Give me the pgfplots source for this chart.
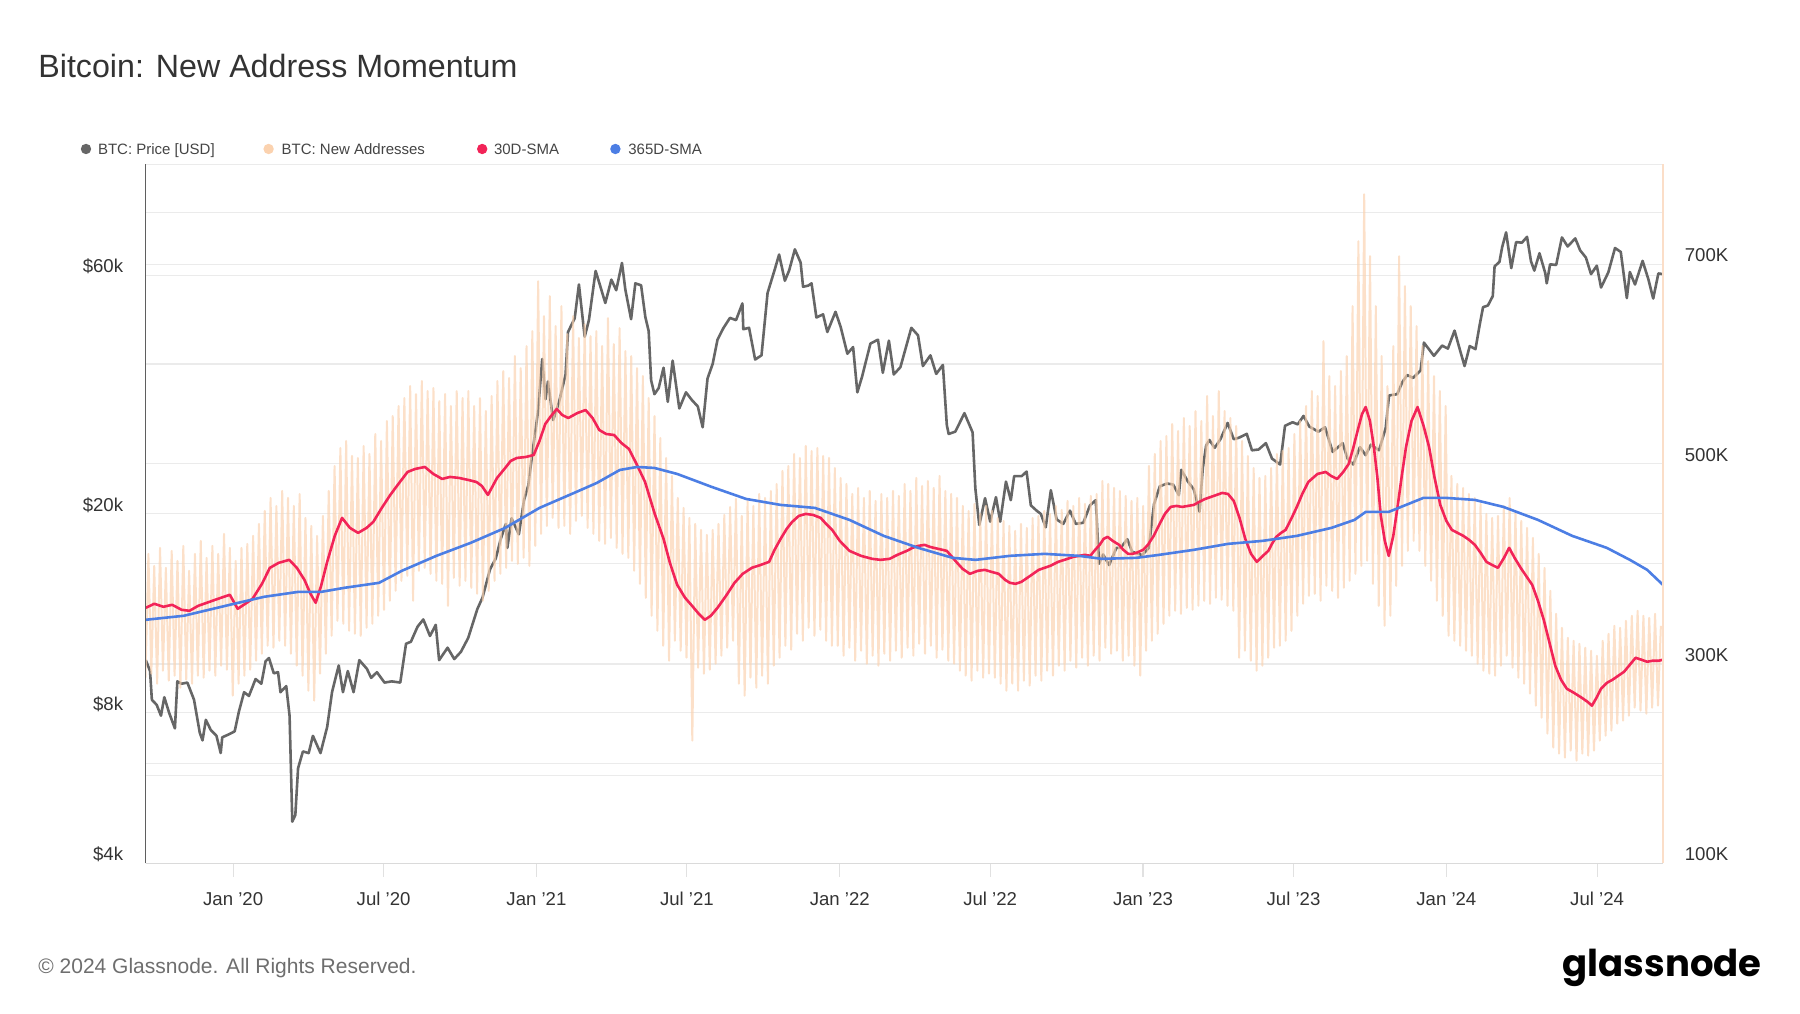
\documentclass[border=0pt]{standalone}
\usepackage{fontspec}
\setmainfont{Liberation Sans}
\newfontfamily\logofont{Poppins}
\usepackage{pgfplots}
\pgfplotsset{compat=1.18}
\usepackage{pgfplotstable}

\definecolor{pricegray}{RGB}{102,102,102}
\definecolor{peach}{RGB}{251,210,175}
\definecolor{peachaxis}{RGB}{251,222,200}
\definecolor{smared}{RGB}{242,36,88}
\definecolor{smablue}{RGB}{76,126,228}
\definecolor{gridc}{RGB}{235,235,235}
\definecolor{tickc}{RGB}{225,225,225}
\definecolor{bottomc}{RGB}{218,218,218}
\definecolor{spine}{RGB}{95,95,95}
\definecolor{txt}{RGB}{51,51,51}
\definecolor{legtxt}{RGB}{68,68,68}
\definecolor{foot}{RGB}{110,110,110}

\pgfplotstableread{
t price
2019.712 10200
2019.726 9700
2019.732 8500
2019.748 8300
2019.762 7900
2019.773 8600
2019.789 8000
2019.808 7450
2019.816 9250
2019.830 9150
2019.849 9200
2019.871 8500
2019.890 7300
2019.899 7050
2019.910 7750
2019.926 7400
2019.945 7200
2019.959 6650
2019.964 7150
2019.986 7250
2020.005 7350
2020.019 8050
2020.036 8800
2020.052 8650
2020.074 9350
2020.093 9150
2020.107 10150
2020.118 10300
2020.134 9600
2020.148 9650
2020.156 8800
2020.175 9050
2020.186 7900
2020.195 4850
2020.205 5000
2020.214 6200
2020.230 6700
2020.249 6650
2020.263 7200
2020.288 6650
2020.310 7500
2020.326 8800
2020.348 9950
2020.362 8800
2020.378 9700
2020.397 8800
2020.416 10200
2020.441 9800
2020.455 9400
2020.474 9650
2020.499 9200
2020.523 9250
2020.551 9200
2020.570 11000
2020.586 11100
2020.608 11900
2020.627 12300
2020.649 11400
2020.668 12000
2020.679 10200
2020.707 10800
2020.729 10250
2020.751 10600
2020.775 11300
2020.805 12900
2020.822 13600
2020.847 15500
2020.866 16300
2020.882 17800
2020.899 19100
2020.904 17100
2020.918 19600
2020.942 18200
2020.959 21300
2020.973 22800
2020.986 26300
2021.005 32000
2021.019 40800
2021.030 33900
2021.038 36800
2021.055 30800
2021.074 33400
2021.096 38000
2021.104 46200
2021.126 49200
2021.140 57500
2021.159 45200
2021.173 48800
2021.195 61200
2021.208 57700
2021.227 52800
2021.247 58800
2021.263 56000
2021.282 63500
2021.293 56200
2021.312 49000
2021.326 57800
2021.345 57300
2021.359 49500
2021.370 46400
2021.378 37000
2021.389 34700
2021.403 35700
2021.419 39200
2021.433 33500
2021.449 40500
2021.471 32500
2021.493 35000
2021.512 33800
2021.532 32800
2021.548 29800
2021.564 37300
2021.581 39900
2021.597 44600
2021.616 47000
2021.638 49300
2021.658 48800
2021.679 52700
2021.682 46800
2021.701 47100
2021.721 40700
2021.742 41500
2021.762 55300
2021.786 61700
2021.800 66000
2021.819 58500
2021.833 61300
2021.852 67600
2021.871 63600
2021.879 56900
2021.896 57200
2021.907 57800
2021.923 49400
2021.945 50100
2021.959 46200
2021.986 50700
2022.003 47300
2022.025 41800
2022.044 43100
2022.058 35000
2022.074 37700
2022.101 43800
2022.126 44600
2022.142 38300
2022.162 44400
2022.178 38000
2022.200 39300
2022.236 47100
2022.258 45500
2022.274 39500
2022.299 41500
2022.318 38100
2022.340 39700
2022.353 30100
2022.359 28900
2022.381 29200
2022.411 31800
2022.438 29100
2022.447 22500
2022.460 19000
2022.479 21500
2022.496 19300
2022.515 21600
2022.529 19300
2022.548 23200
2022.564 21300
2022.575 23800
2022.600 23800
2022.616 24300
2022.630 20800
2022.649 20300
2022.663 20000
2022.679 18800
2022.696 22300
2022.715 19500
2022.737 19100
2022.759 20300
2022.778 19100
2022.803 19200
2022.825 20800
2022.844 21300
2022.855 15900
2022.868 16600
2022.888 15800
2022.912 17100
2022.926 17100
2022.948 17800
2022.964 16800
2022.997 16550
2023.019 17100
2023.036 20900
2023.055 22700
2023.079 23000
2023.099 22900
2023.118 21800
2023.126 24500
2023.148 23200
2023.167 22400
2023.186 20200
2023.197 24700
2023.208 27400
2023.219 28100
2023.236 27100
2023.255 28200
2023.279 30400
2023.299 28200
2023.316 28400
2023.342 28900
2023.359 26800
2023.381 26900
2023.405 27700
2023.425 25800
2023.452 25100
2023.468 30000
2023.493 30500
2023.510 30200
2023.529 31400
2023.548 29900
2023.578 29200
2023.600 29800
2023.625 26600
2023.658 27700
2023.674 25800
2023.693 25100
2023.715 27200
2023.734 26200
2023.751 27500
2023.778 26800
2023.800 29700
2023.811 34500
2023.838 34700
2023.855 36700
2023.871 37900
2023.890 37400
2023.915 38700
2023.926 44000
2023.959 41400
2023.986 43400
2024.005 42800
2024.027 46500
2024.044 42700
2024.060 39500
2024.077 43300
2024.096 42700
2024.110 47800
2024.121 51800
2024.137 52200
2024.153 54500
2024.159 62500
2024.175 63800
2024.184 68300
2024.197 73100
2024.214 62000
2024.230 69900
2024.249 69700
2024.266 71600
2024.279 64000
2024.290 61300
2024.307 66400
2024.326 60600
2024.331 57800
2024.342 63100
2024.362 62900
2024.381 71400
2024.400 68500
2024.425 71100
2024.441 67300
2024.460 65100
2024.477 60300
2024.496 62700
2024.510 56700
2024.534 60800
2024.556 68000
2024.575 66800
2024.595 54000
2024.605 60900
2024.622 57500
2024.647 64100
2024.666 58900
2024.682 53900
2024.699 60500
2024.714 60300
}\pricetab

\pgfplotstableread{
t v
2019.712 356
2019.740 360
2019.770 357
2019.799 359
2019.830 354
2019.856 353
2019.885 358
2019.913 361
2019.950 365
2019.989 369
2020.015 355
2020.040 360
2020.064 365
2020.095 380
2020.121 396
2020.150 401
2020.185 404
2020.210 396
2020.235 384
2020.255 370
2020.272 361
2020.290 378
2020.310 402
2020.335 428
2020.359 446
2020.385 436
2020.412 431
2020.440 436
2020.462 442
2020.490 456
2020.518 469
2020.545 480
2020.575 492
2020.600 495
2020.632 497
2020.660 490
2020.689 485
2020.715 487
2020.745 486
2020.775 484
2020.802 482
2020.820 478
2020.840 469
2020.870 486
2020.897 496
2020.915 503
2020.935 506
2020.965 507
2020.991 509
2021.010 523
2021.029 540
2021.048 548
2021.067 555
2021.085 549
2021.105 546
2021.135 551
2021.162 554
2021.185 546
2021.207 534
2021.230 530
2021.256 529
2021.280 521
2021.305 515
2021.330 500
2021.358 482
2021.390 450
2021.419 425
2021.440 401
2021.464 379
2021.490 366
2021.513 358
2021.535 350
2021.555 344
2021.575 348
2021.597 356
2021.625 368
2021.653 381
2021.680 390
2021.710 396
2021.740 399
2021.767 402
2021.785 414
2021.805 425
2021.825 435
2021.843 442
2021.865 448
2021.888 450
2021.912 449
2021.937 446
2021.955 440
2021.975 434
2022.000 423
2022.032 413
2022.070 408
2022.107 405
2022.135 404
2022.164 405
2022.190 409
2022.221 413
2022.240 416
2022.259 418
2022.280 419
2022.297 417
2022.325 415
2022.353 413
2022.370 407
2022.384 402
2022.405 395
2022.429 390
2022.455 393
2022.478 394
2022.500 392
2022.524 390
2022.545 384
2022.561 381
2022.580 380
2022.599 382
2022.628 388
2022.656 394
2022.675 396
2022.694 398
2022.720 402
2022.751 405
2022.770 407
2022.789 408
2022.808 409
2022.826 408
2022.842 414
2022.857 419
2022.870 425
2022.883 427
2022.900 423
2022.921 419
2022.935 414
2022.951 410
2022.965 410
2022.978 411
2023.000 414
2023.016 419
2023.035 428
2023.053 439
2023.072 450
2023.091 457
2023.110 458
2023.129 457
2023.148 458
2023.167 459
2023.185 462
2023.205 465
2023.233 468
2023.261 471
2023.280 470
2023.299 463
2023.318 446
2023.337 425
2023.356 410
2023.375 402
2023.395 408
2023.413 413
2023.425 420
2023.439 427
2023.455 431
2023.470 434
2023.490 446
2023.507 457
2023.525 470
2023.545 482
2023.575 490
2023.602 492
2023.620 488
2023.640 485
2023.660 492
2023.678 500
2023.693 516
2023.708 534
2023.722 550
2023.734 557
2023.748 543
2023.761 517
2023.772 488
2023.784 448
2023.797 423
2023.810 408
2023.825 428
2023.840 459
2023.853 488
2023.867 517
2023.885 543
2023.905 557
2023.925 538
2023.943 517
2023.960 488
2023.980 459
2024.000 443
2024.018 434
2024.037 431
2024.056 428
2024.075 424
2024.094 419
2024.113 411
2024.132 402
2024.150 399
2024.170 396
2024.190 406
2024.207 416
2024.225 406
2024.245 396
2024.265 387
2024.283 379
2024.302 363
2024.321 344
2024.340 321
2024.359 298
2024.378 284
2024.397 275
2024.420 271
2024.446 266
2024.465 262
2024.480 258
2024.495 266
2024.510 275
2024.530 281
2024.548 284
2024.567 288
2024.586 292
2024.605 299
2024.624 306
2024.643 304
2024.662 302
2024.680 303
2024.700 303
2024.714 304
}\redtab

\pgfplotstableread{
t v
2019.712 344
2019.837 348
2019.989 359
2020.102 367
2020.216 372
2020.291 372
2020.367 376
2020.481 381
2020.556 393
2020.670 408
2020.783 421
2020.897 436
2021.010 456
2021.124 471
2021.199 481
2021.275 494
2021.332 497
2021.389 496
2021.464 490
2021.578 477
2021.691 465
2021.805 459
2021.918 456
2022.032 444
2022.145 428
2022.259 416
2022.372 406
2022.448 404
2022.561 408
2022.675 410
2022.789 408
2022.864 405
2022.978 406
2023.053 409
2023.167 414
2023.280 420
2023.394 423
2023.507 428
2023.621 436
2023.697 444
2023.734 452
2023.810 452
2023.867 459
2023.924 466
2024.000 466
2024.094 464
2024.188 457
2024.302 444
2024.415 428
2024.529 416
2024.605 404
2024.662 394
2024.714 379
}\bluetab

\pgfplotstableread[row sep=\\]{
v\\
286\\410\\ 290\\398\\ 280\\416\\ 293\\396\\ 283\\413\\ 288\\403\\ 276\\418\\ 284\\393\\
280\\410\\ 288\\423\\ 286\\406\\ 293\\418\\ 288\\410\\ 298\\430\\ 294\\416\\ 268\\403\\
280\\416\\ 288\\420\\ 294\\428\\ 303\\440\\ 310\\453\\ 318\\466\\ 316\\458\\ 323\\473\\
318\\466\\ 310\\458\\ 298\\470\\ 288\\446\\ 273\\438\\ 263\\428\\ 290\\448\\ 310\\473\\
328\\498\\ 343\\516\\ 340\\523\\ 333\\508\\ 330\\506\\ 328\\518\\ 336\\510\\ 340\\530\\
348\\523\\ 354\\543\\ 363\\548\\ 373\\558\\ 383\\566\\ 388\\578\\ 363\\570\\ 393\\583\\
396\\573\\ 390\\576\\ 383\\563\\ 380\\570\\ 358\\558\\ 386\\573\\ 378\\566\\ 383\\573\\
376\\558\\ 370\\566\\ 363\\553\\ 373\\568\\ 383\\583\\ 390\\593\\ 396\\586\\ 403\\608\\
400\\596\\ 406\\618\\ 398\\633\\ 418\\683\\ 430\\648\\ 438\\668\\ 446\\638\\ 436\\658\\
438\\630\\ 430\\648\\ 443\\626\\ 448\\640\\ 436\\628\\ 430\\633\\ 423\\618\\ 420\\646\\
426\\620\\ 416\\636\\ 410\\613\\ 406\\608\\ 393\\596\\ 380\\588\\ 366\\566\\ 348\\548\\
333\\526\\ 318\\506\\ 303\\488\\ 323\\466\\ 313\\456\\ 306\\446\\ 223\\440\\ 296\\434\\
290\\429\\ 294\\434\\ 300\\440\\ 308\\449\\ 316\\457\\ 323\\465\\ 280\\448\\ 268\\463\\
286\\458\\ 276\\470\\ 288\\466\\ 280\\473\\ 298\\480\\ 306\\493\\ 318\\498\\ 314\\510\\
330\\506\\ 323\\518\\ 336\\513\\ 328\\516\\ 334\\508\\ 323\\506\\ 318\\496\\ 318\\486\\
308\\480\\ 316\\470\\ 303\\476\\ 313\\466\\ 300\\473\\ 308\\463\\ 298\\470\\ 310\\466\\
303\\473\\ 313\\468\\ 306\\480\\ 316\\473\\ 308\\486\\ 320\\478\\ 310\\483\\ 318\\476\\
306\\488\\ 314\\473\\ 303\\470\\ 300\\466\\ 293\\458\\ 288\\453\\ 283\\460\\ 293\\450\\
286\\458\\ 290\\453\\ 286\\446\\ 280\\443\\ 273\\438\\ 280\\433\\ 273\\440\\ 283\\436\\
278\\446\\ 288\\448\\ 283\\453\\ 293\\450\\ 288\\458\\ 298\\454\\ 293\\463\\ 303\\458\\
296\\466\\ 306\\460\\ 298\\468\\ 308\\470\\ 303\\483\\ 316\\480\\ 310\\476\\ 313\\473\\
303\\468\\ 308\\463\\ 298\\466\\ 288\\458\\ 313\\498\\ 323\\510\\ 330\\523\\ 340\\528\\
348\\540\\ 353\\533\\ 350\\546\\ 356\\538\\ 354\\553\\ 358\\543\\ 363\\568\\ 360\\548\\
366\\573\\ 364\\553\\ 358\\546\\ 353\\538\\ 306\\523\\ 313\\508\\ 303\\496\\ 293\\486\\
298\\488\\ 306\\496\\ 316\\510\\ 318\\513\\ 323\\516\\ 333\\530\\ 348\\543\\ 360\\558\\
368\\573\\ 370\\568\\ 363\\623\\ 378\\588\\ 373\\578\\ 366\\593\\ 376\\608\\ 383\\658\\
390\\723\\ 398\\770\\ 403\\708\\ 380\\658\\ 358\\608\\ 338\\578\\ 348\\618\\ 378\\708\\
398\\678\\ 413\\658\\ 423\\638\\ 413\\618\\ 398\\603\\ 383\\588\\ 363\\573\\ 348\\558\\
328\\488\\ 323\\480\\ 318\\476\\ 313\\470\\ 308\\466\\ 300\\460\\ 293\\450\\ 290\\446\\
288\\448\\ 298\\458\\ 308\\466\\ 296\\453\\ 286\\443\\ 280\\436\\ 270\\426\\ 258\\410\\
246\\396\\ 230\\373\\ 216\\350\\ 210\\336\\ 206\\326\\ 213\\323\\ 203\\320\\ 210\\316\\
208\\313\\ 213\\308\\ 223\\323\\ 228\\330\\ 233\\338\\ 240\\336\\ 243\\343\\ 248\\348\\
256\\353\\ 253\\348\\ 250\\346\\ 256\\350\\ 258\\338\\
}\peachtab

\pgfplotsset{
  base/.style={at={(72.75pt,74.75pt)}, anchor=south west, scale only axis,
    width=758.7pt, height=349.6pt, clip mode=individual},
  labfont/.style={font=\fontsize{9.3}{11}\selectfont, text=txt},
}

\begin{document}
\begin{tikzpicture}
\path[use as bounding box] (0pt,0pt) rectangle (900pt,506.5pt);

% price axis (left, log)
\begin{axis}[base,
  xmin=2019.711, xmax=2024.714,
  ymode=log, ymin=4000, ymax=100000,
  axis line style={draw=none},
  xtick={2020,2020.496,2021,2021.496,2022,2022.496,2023,2023.496,2024,2024.497},
  xticklabels={Jan '20,Jul '20,Jan '21,Jul '21,Jan '22,Jul '22,Jan '23,Jul '23,Jan '24,Jul '24},
  ytick={4000,6000,8000,10000,20000,40000,60000,80000},
  yticklabels={\$4k,,\$8k,,\$20k,,\$60k,},
  major tick length=0pt, minor tick length=0pt, yminorticks=false,
  ymajorgrids, major grid style={gridc, line width=0.5pt},
  tick label style={labfont},
  xticklabel style={yshift=-10.8pt},
  yticklabel style={xshift=-7.65pt, yshift=4.5pt},
]
\pgfplotsinvokeforeach{1,2,3,4,5,6}{
  \draw[gridc, line width=0.5pt] (rel axis cs:0,#1/7) -- (rel axis cs:1,#1/7);
}
\pgfplotsinvokeforeach{2020,2020.496,2021,2021.496,2022,2022.496,2023,2023.496,2024,2024.497}{
  \draw[tickc, line width=0.6pt] (axis cs:#1,4000) -- ++(0pt,-7pt);
}
\addplot[pricegray, line width=1.3pt, line join=round] table[x=t, y=price] {\pricetab};
\end{axis}

% new addresses (daily band)
\begin{axis}[base, xmin=0, xmax=521.7, ymin=100, ymax=800, hide axis]
\addplot[peach, line width=1.0pt, opacity=0.68, line join=round] table[x expr=\coordindex, y=v] {\peachtab};
\end{axis}

% SMAs (right axis)
\begin{axis}[base,
  xmin=2019.711, xmax=2024.714, ymin=100, ymax=800,
  axis line style={draw=none}, xtick=\empty,
  ytick={100,200,300,400,500,600,700},
  yticklabels={100K,,300K,,500K,,700K},
  yticklabel pos=right, major tick length=0pt,
  tick label style={labfont},
  yticklabel style={xshift=7.45pt, yshift=4.5pt},
]
\addplot[smared, line width=1.3pt, line join=round] table[x=t, y=v] {\redtab};
\addplot[smablue, line width=1.3pt, line join=round] table[x=t, y=v] {\bluetab};
\draw[gridc, line width=0.6pt] (rel axis cs:0,1) -- (rel axis cs:1,1);
\draw[bottomc, line width=0.6pt] (rel axis cs:0,0) -- (rel axis cs:1,0);
\draw[peachaxis, line width=0.8pt] (rel axis cs:1,0) -- (rel axis cs:1,1);
\draw[spine, line width=0.8pt] (rel axis cs:0,0) -- (rel axis cs:0,1);
\end{axis}

% title
\node[anchor=base west, inner sep=0pt, font=\fontsize{16.1}{19}\selectfont, text=txt] at (19pt,467.5pt) {Bitcoin: New Address Momentum};

% legend
\begin{scope}[every node/.style={anchor=base west, inner sep=0pt, font=\fontsize{7.5}{9}\selectfont, text=legtxt}]
\fill[pricegray] (43pt,432pt) circle (2.6pt);
\node at (48.8pt,429.3pt) {BTC: Price [USD]};
\fill[peach] (134.3pt,432pt) circle (2.6pt);
\node at (140.6pt,429.3pt) {BTC: New Addresses};
\fill[smared] (241.1pt,432pt) circle (2.6pt);
\node at (246.8pt,429.3pt) {30D-SMA};
\fill[smablue] (307.7pt,432pt) circle (2.6pt);
\node at (314pt,429.3pt) {365D-SMA};
\end{scope}

% footer
\node[anchor=west, inner sep=0pt, font=\fontsize{10.5}{12}\selectfont, text=foot] at (19pt,22.6pt) {© 2024 Glassnode. All Rights Reserved.};
\node[anchor=east, inner sep=0pt, font=\logofont\bfseries\fontsize{18.5}{22}\selectfont, text=black] at (881pt,22.5pt) {glassnode};
\end{tikzpicture}
\end{document}
